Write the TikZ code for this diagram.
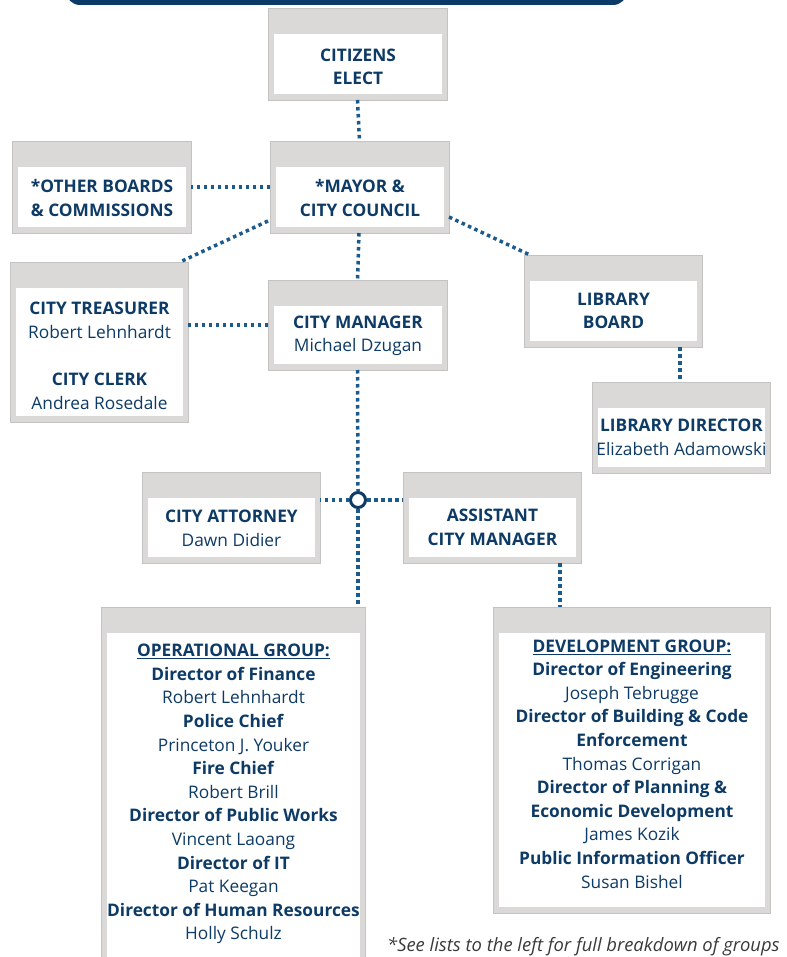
\documentclass[tikz,border=0pt]{standalone}
\usepackage{fontspec}
\setmainfont{Open Sans}
\usetikzlibrary{calc,fit}
\definecolor{tblue}{HTML}{0D3B66}
\definecolor{dblue}{HTML}{1B5A8C}
\definecolor{bannerblue}{HTML}{0B3A66}
\definecolor{gbox}{HTML}{DAD9D8}
\definecolor{fgrey}{HTML}{3A3A3A}
\tikzset{
  greybox/.style={fill=gbox, draw=gbox!90!black, line width=0.4pt, inner sep=0pt, outer sep=0pt, rectangle},
  txt/.style={text=tblue, align=center, font=\fontsize{17.3}{23.6}\selectfont, inner sep=0pt},
  conn/.style={draw=dblue, line width=3.5pt, dash pattern=on 3.5pt off 3.5pt},
  junction/.style={circle, draw=tblue, line width=3pt, fill=white, minimum size=15pt, inner sep=0pt}
}
\newcommand\obox[7][0]{%
  \node[greybox, fit={(#3,#4)(#5,#6)}] (#2) {};
  \fill[white] ($(#3,#4)+(6,26)$) rectangle ($(#5,#6)+(-5,-6)$);
  \node[txt] (#2-t) at ($($(#3,#4)+(6,26)$)!0.5!($(#5,#6)+(-5,-6)$)+(0,#1)$) {#7};
}
\begin{document}
\begin{tikzpicture}[x=1pt,y=-1pt]
\useasboundingbox (0,0) rectangle (786,957);
% banner
\fill[bannerblue, rounded corners=14pt] (66,-40) rectangle (627,5);
% boxes
\obox[3]{cit}{268}{8}{447}{100}{\textbf{CITIZENS}\\\textbf{ELECT}}
\obox[1]{may}{270}{141}{449}{233}{\textbf{*MAYOR \&}\\\textbf{CITY COUNCIL}}
\obox[1]{ob}{12}{141}{191}{233}{\textbf{*OTHER BOARDS}\\\textbf{\& COMMISSIONS}}
\obox[4]{tr}{10}{262}{188}{422}{\textbf{CITY TREASURER}\\Robert Lehnhardt\\[23.6pt]\textbf{CITY CLERK}\\Andrea Rosedale}
\obox[1]{cm}{268}{280}{447}{370}{\textbf{CITY MANAGER}\\Michael Dzugan}
\obox{lb}{524}{255}{702}{347}{\textbf{LIBRARY}\\\textbf{BOARD}}
\obox{ld}{592}{382}{770}{473}{\textbf{LIBRARY DIRECTOR}\\Elizabeth Adamowski}
\obox[1]{at}{142}{472}{320}{563}{\textbf{CITY ATTORNEY}\\Dawn Didier}
\obox{acm}{403}{472}{581}{563}{\textbf{ASSISTANT}\\\textbf{CITY MANAGER}}
\obox[-7]{op}{101}{607}{365}{975}{\textbf{\underline{OPERATIONAL GROUP:}}\\\textbf{Director of Finance}\\Robert Lehnhardt\\\textbf{Police Chief}\\Princeton J. Youker\\\textbf{Fire Chief}\\Robert Brill\\\textbf{Director of Public Works}\\Vincent Laoang\\\textbf{Director of IT}\\Pat Keegan\\\textbf{Director of Human Resources}\\Holly Schulz}
\obox[-6]{dev}{493}{607}{770}{913}{\textbf{\underline{DEVELOPMENT GROUP:}}\\\textbf{Director of Engineering}\\Joseph Tebrugge\\\textbf{Director of Building \& Code}\\\textbf{Enforcement}\\Thomas Corrigan\\\textbf{Director of Planning \&}\\\textbf{Economic Development}\\James Kozik\\\textbf{Public Information Officer}\\Susan Bishel}
% junction
\node[junction] (j) at (358,500) {};
% connectors
\draw[conn] (cit.south) -- (may.north);
\draw[conn] (may.west) -- (ob.east);
\draw[conn] ($(may.south west)+(-2,-12)$) -- ($(tr.north east)+(-8,0)$);
\draw[conn] ($(may.south east)+(0,-16)$) -- ($(lb.north west)+(6,0)$);
\draw[conn] ($(may.south)+(-0.5,0)$) -- ($(cm.north)$);
\draw[conn] (cm.west) -- (cm.west -| tr.east);
\draw[conn] ($(lb.south east)+(-22,0)$) coordinate (lbd) -- (lbd |- ld.north);
\draw[conn] (cm.south) -- (j.north);
\draw[conn] (j.west) -- (j.west -| at.east);
\draw[conn] (j.east) -- (j.east -| acm.west);
\draw[conn] (j.south) -- (j.south |- op.north);
\draw[conn] ($(acm.south east)+(-21,0)$) coordinate (acd) -- (acd |- dev.north);
% footnote
\node[anchor=base west, inner sep=0pt, text=fgrey, font=\fontsize{18.4}{20}\selectfont\itshape] (fn) at (387,951) {*See lists to the left for full breakdown of groups};
\end{tikzpicture}
\end{document}
